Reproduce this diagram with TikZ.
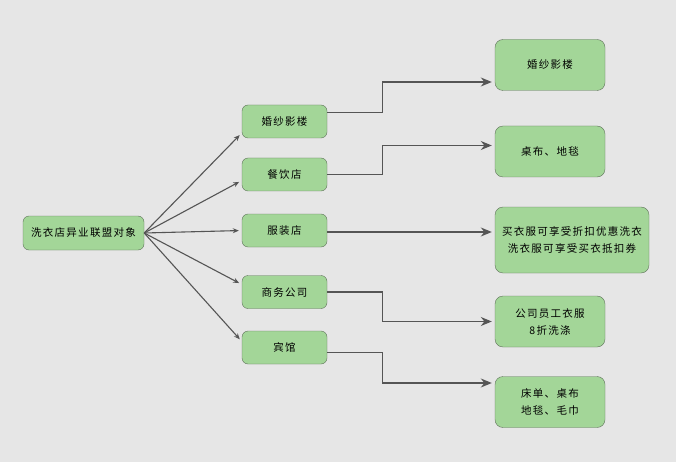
\documentclass[tikz,border=0pt]{standalone}
\usepackage{fontspec}
\setmainfont{Noto Sans CJK SC}
\usetikzlibrary{arrows.meta}
\definecolor{bggray}{RGB}{230,230,230}
\definecolor{boxgreen}{RGB}{163,214,152}
\definecolor{boxline}{RGB}{95,112,90}
\definecolor{wire}{RGB}{85,85,85}
\begin{document}
\begin{tikzpicture}[x=1pt, y=-1pt,
    every node/.style={font=\fontsize{10.5}{17}\selectfont\addfontfeature{LetterSpace=12}},
    root/.style={draw=boxline, rounded corners=6pt, fill=boxgreen, minimum width=121pt, minimum height=34pt, align=center},
    mid/.style={draw=boxline, rounded corners=6pt, fill=boxgreen, minimum width=85pt, minimum height=33pt, align=center},
    leaf/.style={draw=boxline, rounded corners=8pt, fill=boxgreen, minimum width=110pt, minimum height=51pt, align=center},
    fan/.style={-{Stealth[length=6pt, width=5pt]}, wire, line width=1.1pt, shorten >=3pt},
    step arrow/.style={-{Stealth[length=11pt, width=9pt]}, wire, line width=1.3pt, shorten >=3pt}
]
    % Background
    \fill[bggray] (0,0) rectangle (676,462);

    % Root
    \node[root] (target) at (83.5,233) {洗衣店异业联盟对象};

    % Middle column
    \node[mid] (wedding) at (284.5,121.5) {婚纱影楼};
    \node[mid] (diner) at (284.5,174.5) {餐饮店};
    \node[mid] (apparel) at (284.5,230.5) {服装店};
    \node[mid] (office) at (284.5,292) {商务公司};
    \node[mid] (hotel) at (284.5,347.5) {宾馆};

    % Right column
    \node[leaf] (photo) at (550,65) {婚纱影楼};
    \node[leaf] (cloth) at (550,151.5) {桌布、地毯};
    \node[leaf, minimum width=154pt, minimum height=66pt] (coupon) at (572,240) {买衣服可享受折扣优惠洗衣\\洗衣服可享受买衣抵扣券};
    \node[leaf] (staff) at (550,321.5) {公司员工衣服\\8折洗涤};
    \node[leaf] (linen) at (550,402) {床单、桌布\\地毯、毛巾};

    % Arrows from root
    \draw[fan] (target.east) -- (wedding.195);
    \draw[fan] (target.east) -- (diner.188);
    \draw[fan] (target.east) -- (apparel.west);
    \draw[fan] (target.east) -- (office.170);
    \draw[fan] (target.east) -- (hotel.172);

    % Arrows to offers
    \draw[step arrow] ([yshift=9pt]wedding.east) -- ++(55,0) |- ([yshift=-17pt]photo.west);
    \draw[step arrow] (diner.east) -- ++(55,0) |- ([yshift=6pt]cloth.west);
    \draw[step arrow] ([yshift=-1.5pt]apparel.east) -- ([yshift=8pt]coupon.west);
    \draw[step arrow] (office.east) -- ++(55,0) |- (staff.west);
    \draw[step arrow] ([yshift=-5pt]hotel.east) -- ++(55,0) |- ([yshift=19pt]linen.west);
\end{tikzpicture}
\end{document}
